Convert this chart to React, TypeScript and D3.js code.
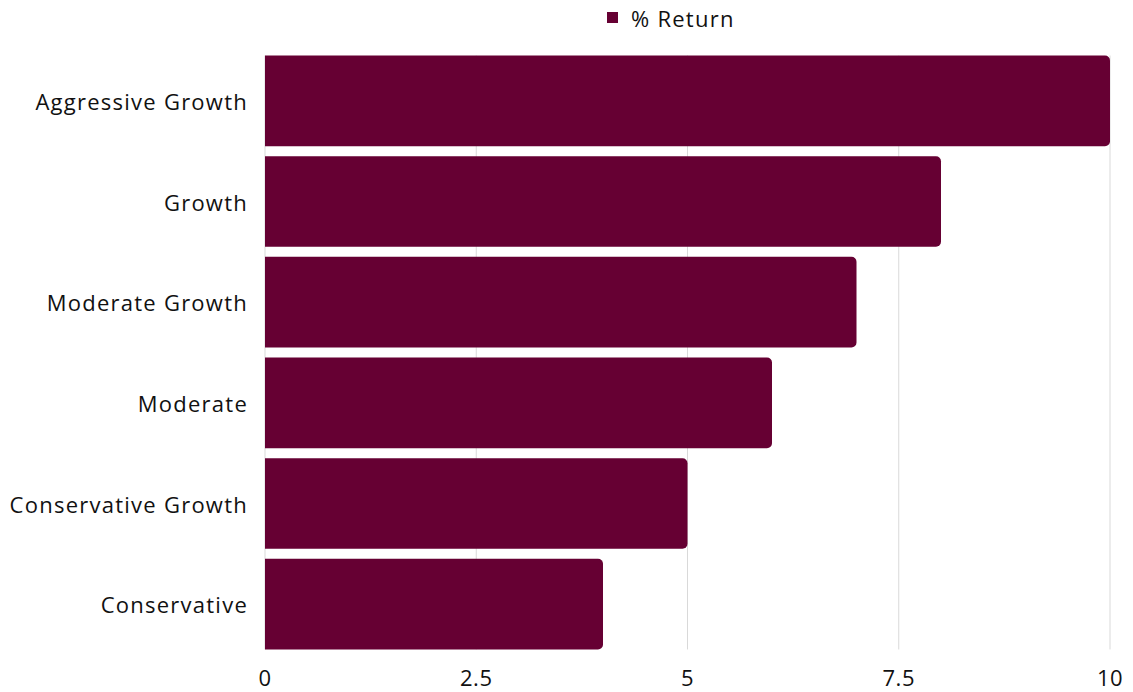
import React from "react";
import * as d3 from "d3";

const categories = ["Aggressive Growth", "Growth", "Moderate Growth", "Moderate", "Conservative Growth", "Conservative"];
const returns = [10, 8, 7, 6, 5, 4];
const ticks = [0, 2.5, 5, 7.5, 10];
const seriesName = "% Return";

const W = 1133, H = 692;
const color = "#660033";
const font = "'Open Sans', 'Noto Sans', sans-serif";

export default function App() {
  const x = d3.scaleLinear().domain([0, 10]).range([265, 1110]);
  const y = d3.scaleBand<string>().domain(categories).range([50.5, 654.5]).paddingInner(0.1).paddingOuter(0.05);
  const r = 5;
  const barPath = (v: number, c: string) => {
    const x0 = x(0), x1 = x(v), y0 = y(c)!, h = y.bandwidth();
    const p = d3.path();
    p.moveTo(x0, y0);
    p.lineTo(x1 - r, y0);
    p.arcTo(x1, y0, x1, y0 + r, r);
    p.lineTo(x1, y0 + h - r);
    p.arcTo(x1, y0 + h, x1 - r, y0 + h, r);
    p.lineTo(x0, y0 + h);
    p.closePath();
    return p.toString();
  };
  const gTop = y(categories[0])!;
  const gBot = y(categories[categories.length - 1])! + y.bandwidth();
  const ls = 1.25;
  return (
    <svg width={W} height={H} style={{ position: "absolute", left: 0, top: 0, background: "#fff" }} fontFamily={font}>
      <rect x={0} y={0} width={W} height={H} fill="#fff" />
      {ticks.map((t) => (
        <line key={t} x1={x(t)} x2={x(t)} y1={gTop} y2={gBot} stroke="#d9d9d9" strokeWidth={1} />
      ))}
      {categories.map((c, i) => (
        <path key={c} d={barPath(returns[i], c)} fill={color} />
      ))}
      {categories.map((c) => (
        <text key={c} x={248} y={y(c)! + y.bandwidth() / 2} textAnchor="end" dominantBaseline="central" fontSize={22} letterSpacing={ls} fill="#111">
          {c}
        </text>
      ))}
      {ticks.map((t) => (
        <text key={t} x={x(t)} y={677} textAnchor="middle" dominantBaseline="central" fontSize={22} letterSpacing={0.5} fill="#111">
          {t}
        </text>
      ))}
      <rect x={607} y={12} width={11} height={11} fill={color} />
      <text x={631} y={17.5} dominantBaseline="central" fontSize={22} letterSpacing={ls} fill="#111">{seriesName}</text>
    </svg>
  );
}
